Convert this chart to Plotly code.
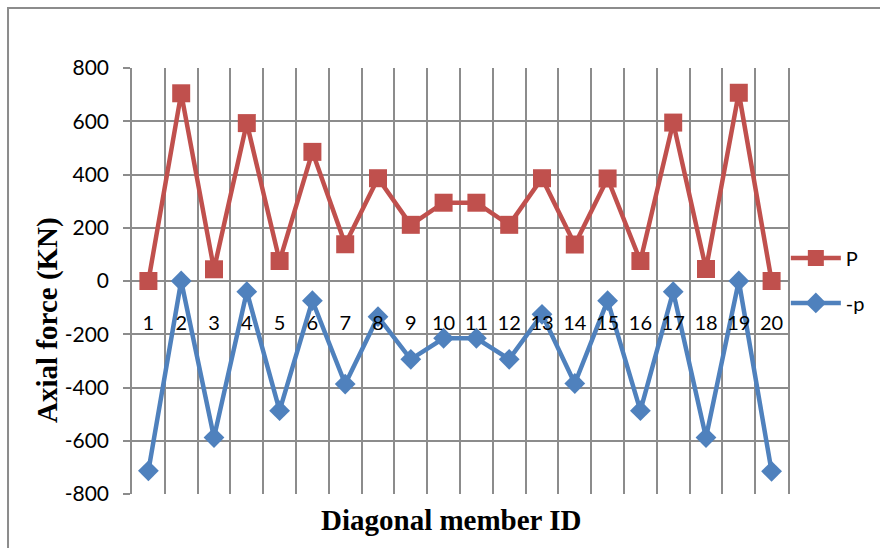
import plotly.graph_objects as go

# Diagonal member IDs and axial forces (kN)
members = list(range(1, 21))
p_force = [0, 705, 44, 593, 75, 485, 138, 386, 211, 294,
           294, 211, 386, 137, 385, 75, 595, 45, 707, 0]
neg_p_force = [-713, 0, -588, -40, -487, -74, -387, -134, -294, -215,
               -215, -294, -125, -385, -74, -487, -40, -588, 0, -715]
y_ticks = [800, 600, 400, 200, 0, -200, -400, -600, -800]
y_tick_text = ["800", "600", "400", "200", "0", "-200", "-400", "-600", "-800"]

RED = "#C0504D"
BLUE = "#4F81BD"
GRID = "#8C8C8C"

fig = go.Figure()
fig.add_trace(go.Scatter(
    x=members, y=p_force, name="P", mode="lines+markers",
    line=dict(color=RED, width=4.5),
    marker=dict(symbol="square", size=18, color=RED),
    legendgroup="a",
))
fig.add_trace(go.Scatter(
    x=members, y=neg_p_force, name="-p", mode="lines+markers",
    line=dict(color=BLUE, width=4.5),
    marker=dict(symbol="diamond", size=16, color=BLUE),
    legendgroup="b",
))

fig.update_layout(
    width=880, height=548,
    margin=dict(l=132, r=92, t=68, b=54, autoexpand=False),
    paper_bgcolor="white", plot_bgcolor="white",
    font=dict(family="Lato", size=21, color="black"),
    showlegend=True,
    legend=dict(
        xref="container", yref="container",
        x=0.893, xanchor="left", y=0.565, yanchor="top",
        font=dict(family="Lato", size=20, color="black"),
        tracegroupgap=16, bgcolor="rgba(0,0,0,0)", itemwidth=50,
    ),
    xaxis=dict(
        range=[0.5, 20.5], tickmode="array", tickvals=members,
        ticktext=[str(m) for m in members],
        showgrid=False, zeroline=False, showline=False, ticks="",
        anchor="free", position=0.5, ticklabelstandoff=28,
        tickfont=dict(family="Lato", size=20, color="black"),
        minor=dict(tickmode="linear", tick0=0.5, dtick=1, showgrid=True,
                   gridcolor=GRID, gridwidth=1.5),
    ),
    yaxis=dict(
        range=[-800, 800], tickmode="array", tickvals=y_ticks,
        ticktext=y_tick_text,
        showgrid=True, gridcolor=GRID, gridwidth=1.5,
        zeroline=False, showline=True, linecolor=GRID, linewidth=1.5,
        mirror=True, ticks="outside", ticklen=7, tickcolor=GRID, tickwidth=1.5,
        ticklabelstandoff=10,
        tickfont=dict(family="Lato", size=21, color="black"),
    ),
)

# axis titles
fig.add_annotation(
    text="<b>Axial force (KN)</b>", textangle=-90,
    xref="paper", yref="paper", x=-0.13, y=0.408,
    xanchor="center", yanchor="middle", showarrow=False,
    font=dict(family="Liberation Serif", size=29, color="black"),
)
fig.add_annotation(
    text="<b>Diagonal member ID</b>",
    xref="paper", yref="paper", x=0.487, y=-0.06,
    xanchor="center", yanchor="middle", showarrow=False,
    font=dict(family="Liberation Serif", size=29, color="black"),
)

# chart frame
fig.add_shape(
    type="rect", xref="paper", yref="paper",
    x0=-0.189, x1=1.4, y0=-0.3, y1=1.141,
    line=dict(color="#8C8C8C", width=2), fillcolor="rgba(0,0,0,0)",
    layer="below",
)

fig.write_html("out.html")
